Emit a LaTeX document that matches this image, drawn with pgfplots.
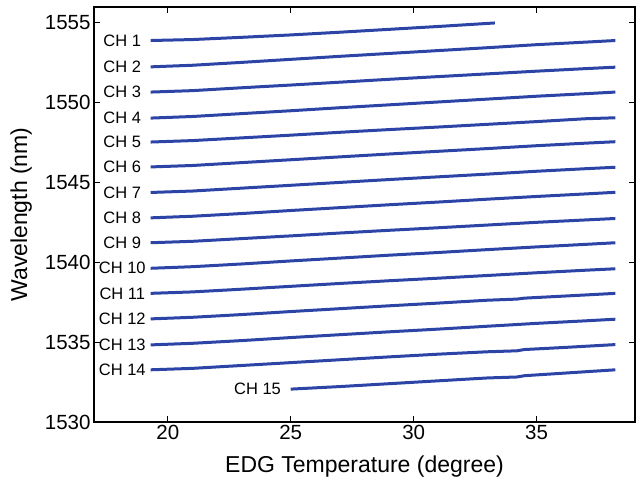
\documentclass[border=0pt]{standalone}
\usepackage{fontspec}
\setmainfont{Liberation Sans}
\usepackage{pgfplots}
\pgfplotsset{compat=1.18}
\definecolor{chblue}{RGB}{44,68,166}

\begin{document}
\begin{tikzpicture}
\begin{axis}[
    scale only axis,
    width=541pt, height=415pt,
    xmin=17, xmax=39, ymin=1530, ymax=1556,
    xtick={20,25,30,35}, ytick={1530,1535,1540,1545,1550,1555},
    xtick pos=both, ytick pos=both,
    tick align=inside, major tick length=6pt,
    axis line style={line width=1.2pt}, tick style={line width=1pt, black},
    /pgf/number format/assume math mode=true,
    /pgf/number format/1000 sep={},
    tick label style={font=\fontsize{20.5}{24}\selectfont},
    xlabel={EDG Temperature (degree)}, ylabel={Wavelength (nm)},
    label style={font=\fontsize{23}{27}\selectfont},
    xlabel style={yshift=-9pt}, ylabel style={yshift=6pt},
    chline/.style={chblue, solid, line width=3pt, mark=none},
]
% CH 1
\addplot[chline] coordinates {(19.3,1553.90) (21,1553.96) (23,1554.10) (25,1554.25) (27,1554.42) (29,1554.60) (31,1554.78) (33.3,1555.00)};
% CH 2
\addplot[chline] coordinates {(19.3,1552.25) (21,1552.35) (23,1552.53) (25,1552.72) (27,1552.91) (29,1553.09) (31,1553.27) (33,1553.45) (35,1553.64) (37,1553.80) (38.2,1553.90)};
% CH 3
\addplot[chline] coordinates {(19.3,1550.67) (21,1550.76) (23,1550.94) (25,1551.11) (27,1551.29) (29,1551.47) (31,1551.64) (33,1551.81) (35,1551.98) (37,1552.14) (38.2,1552.23)};
% CH 4
\addplot[chline] coordinates {(19.3,1549.04) (21,1549.14) (23,1549.32) (25,1549.50) (27,1549.69) (29,1549.87) (31,1550.05) (33,1550.23) (35,1550.41) (37,1550.57) (38.2,1550.67)};
% CH 5
\addplot[chline] coordinates {(19.3,1547.54) (21,1547.63) (23,1547.80) (25,1547.97) (27,1548.15) (29,1548.32) (31,1548.48) (33,1548.65) (35,1548.82) (37,1549.00) (38.2,1549.06)};
% CH 6
\addplot[chline] coordinates {(19.3,1545.98) (21,1546.07) (23,1546.25) (25,1546.43) (27,1546.61) (29,1546.79) (31,1546.96) (33,1547.13) (35,1547.31) (37,1547.47) (38.2,1547.56)};
% CH 7
\addplot[chline] coordinates {(19.3,1544.38) (21,1544.47) (23,1544.65) (25,1544.83) (27,1545.01) (29,1545.19) (31,1545.36) (33,1545.53) (35,1545.71) (37,1545.87) (38.2,1545.96)};
% CH 8
\addplot[chline] coordinates {(19.3,1542.79) (21,1542.89) (23,1543.06) (25,1543.25) (27,1543.43) (29,1543.61) (31,1543.78) (33,1543.96) (35,1544.13) (37,1544.29) (38.2,1544.39)};
% CH 9
\addplot[chline] coordinates {(19.3,1541.23) (21,1541.32) (23,1541.49) (25,1541.66) (27,1541.84) (29,1542.01) (31,1542.17) (33,1542.34) (35,1542.51) (37,1542.66) (38.2,1542.75)};
% CH 10
\addplot[chline] coordinates {(19.3,1539.63) (21,1539.73) (23,1539.90) (25,1540.09) (27,1540.27) (29,1540.45) (31,1540.62) (33,1540.80) (35,1540.97) (37,1541.13) (38.2,1541.23)};
% CH 11
\addplot[chline] coordinates {(19.3,1538.06) (21,1538.15) (23,1538.32) (25,1538.50) (27,1538.68) (29,1538.85) (31,1539.01) (33,1539.18) (35,1539.35) (37,1539.51) (38.2,1539.60)};
% CH 12
\addplot[chline] coordinates {(19.3,1536.46) (21,1536.56) (23,1536.73) (25,1536.92) (27,1537.10) (29,1537.28) (31,1537.45) (33,1537.63) (34.2,1537.70) (34.5,1537.76) (35,1537.80) (37,1537.96) (38.2,1538.06)};
% CH 13
\addplot[chline] coordinates {(19.3,1534.83) (21,1534.93) (23,1535.10) (25,1535.29) (27,1535.47) (29,1535.65) (31,1535.82) (33,1536.00) (35,1536.18) (37,1536.34) (38.2,1536.44)};
% CH 14
\addplot[chline] coordinates {(19.3,1533.27) (21,1533.36) (23,1533.54) (25,1533.72) (27,1533.90) (29,1534.08) (31,1534.25) (33,1534.40) (34.2,1534.46) (34.5,1534.54) (36,1534.66) (38.2,1534.85)};
% CH 15
\addplot[chline] coordinates {(25,1532.06) (27,1532.22) (29,1532.40) (31,1532.58) (33,1532.76) (34.2,1532.82) (34.5,1532.90) (36,1533.05) (38.2,1533.27)};

\begin{scope}[every node/.style={font=\fontsize{16.5}{19}\selectfont, inner sep=0pt, anchor=center}]
\node at (axis cs:18.15,1553.90) {CH 1};
\node at (axis cs:18.15,1552.25) {CH 2};
\node at (axis cs:18.15,1550.67) {CH 3};
\node at (axis cs:18.15,1549.04) {CH 4};
\node at (axis cs:18.15,1547.54) {CH 5};
\node at (axis cs:18.15,1545.98) {CH 6};
\node at (axis cs:18.15,1544.38) {CH 7};
\node at (axis cs:18.15,1542.79) {CH 8};
\node at (axis cs:18.15,1541.23) {CH 9};
\node at (axis cs:18.15,1539.63) {CH 10};
\node at (axis cs:18.15,1538.06) {CH 11};
\node at (axis cs:18.15,1536.46) {CH 12};
\node at (axis cs:18.15,1534.83) {CH 13};
\node at (axis cs:18.15,1533.27) {CH 14};
\node at (axis cs:23.65,1532.06) {CH 15};
\end{scope}
\end{axis}
\pgfresetboundingbox
\path[use as bounding box] (current axis.south west) ++(-94pt,-63pt) rectangle ++(637pt,485pt);
\end{tikzpicture}
\end{document}
